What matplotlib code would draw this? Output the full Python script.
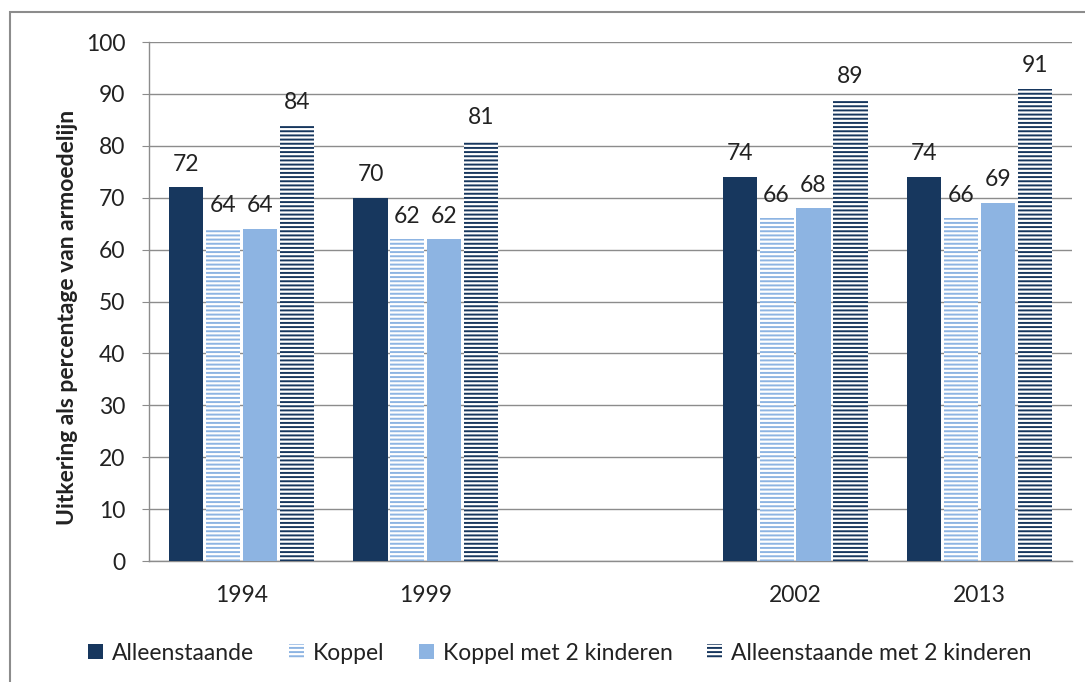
import numpy as np
import matplotlib.pyplot as plt
from matplotlib.patches import Patch, Rectangle

plt.rcParams['font.family'] = ['Lato', 'DejaVu Sans']
plt.rcParams['hatch.linewidth'] = 1.4

# years on the category axis; the blank slot keeps the gap between 1999 and 2002
categories = ['1994', '1999', '', '2002', '2013']
alleenstaande = [72, 70, np.nan, 74, 74]
koppel = [64, 62, np.nan, 66, 66]
koppel_2_kinderen = [64, 62, np.nan, 68, 69]
alleenstaande_2_kinderen = [84, 81, np.nan, 89, 91]

series_names = ['Alleenstaande', 'Koppel', 'Koppel met 2 kinderen',
                'Alleenstaande met 2 kinderen']

navy = '#17375E'
light = '#8DB4E2'
text_color = '#222222'
grey = '#8c8c8c'
fs = 16.5

# (values, colour, striped?)
series = [
    (alleenstaande, navy, False),
    (koppel, light, True),
    (koppel_2_kinderen, light, False),
    (alleenstaande_2_kinderen, navy, True),
]

fig = plt.figure(figsize=(10.85, 6.82), dpi=100)
ax = fig.add_axes([0.1373, 0.1774, 0.8507, 0.761])

x = np.arange(len(categories))
step = 0.2
width = 0.185
handles = []
for i, (vals, color, striped) in enumerate(series):
    pos = x + (i - 1.5) * step
    if striped:
        style = dict(facecolor='white', edgecolor=color, hatch='----', linewidth=0)
    else:
        style = dict(facecolor=color, edgecolor='none', linewidth=0)
    ax.bar(pos, vals, width, zorder=3, **style)
    handles.append(Patch(**style))
    for xp, v in zip(pos, vals):
        if np.isnan(v):
            continue
        ax.annotate(f'{v:.0f}', (xp, v), xytext=(0, 9), textcoords='offset points',
                    ha='center', va='bottom', fontsize=fs, color=text_color)

ax.set_xlim(-0.5, len(categories) - 0.5)
ax.set_ylim(0, 100)
ax.set_yticks(np.arange(0, 101, 10))
ax.set_xticks(x)
ax.set_xticklabels(categories)
ax.yaxis.grid(True, color=grey, linewidth=1.0)
ax.set_axisbelow(True)

for side in ['top', 'right']:
    ax.spines[side].set_visible(False)
for side in ['left', 'bottom']:
    ax.spines[side].set_color(grey)
    ax.spines[side].set_linewidth(1.0)

ax.tick_params(axis='y', length=5, color=grey, pad=12, labelsize=fs, labelcolor=text_color)
ax.tick_params(axis='x', length=0, pad=17, labelsize=fs, labelcolor=text_color)

ax.set_ylabel('Uitkering als percentage van armoedelijn', fontweight='bold',
              fontsize=fs, color=text_color)
ax.yaxis.set_label_coords(-0.077, 0.47)

fig.legend(handles, series_names, loc='center', bbox_to_anchor=(0.516, 0.0425),
           ncol=4, frameon=False, fontsize=fs, handlelength=0.65, handleheight=0.65,
           handletextpad=0.4, columnspacing=1.5, labelcolor=text_color)

# chart border, cut off on the right and bottom
fig.add_artist(Rectangle((10 / 1085, -0.1), 1.2, 1 - 12 / 682 + 0.1,
                         transform=fig.transFigure, fill=False,
                         edgecolor=grey, linewidth=1.5))

fig.savefig('out.png', dpi=100)
